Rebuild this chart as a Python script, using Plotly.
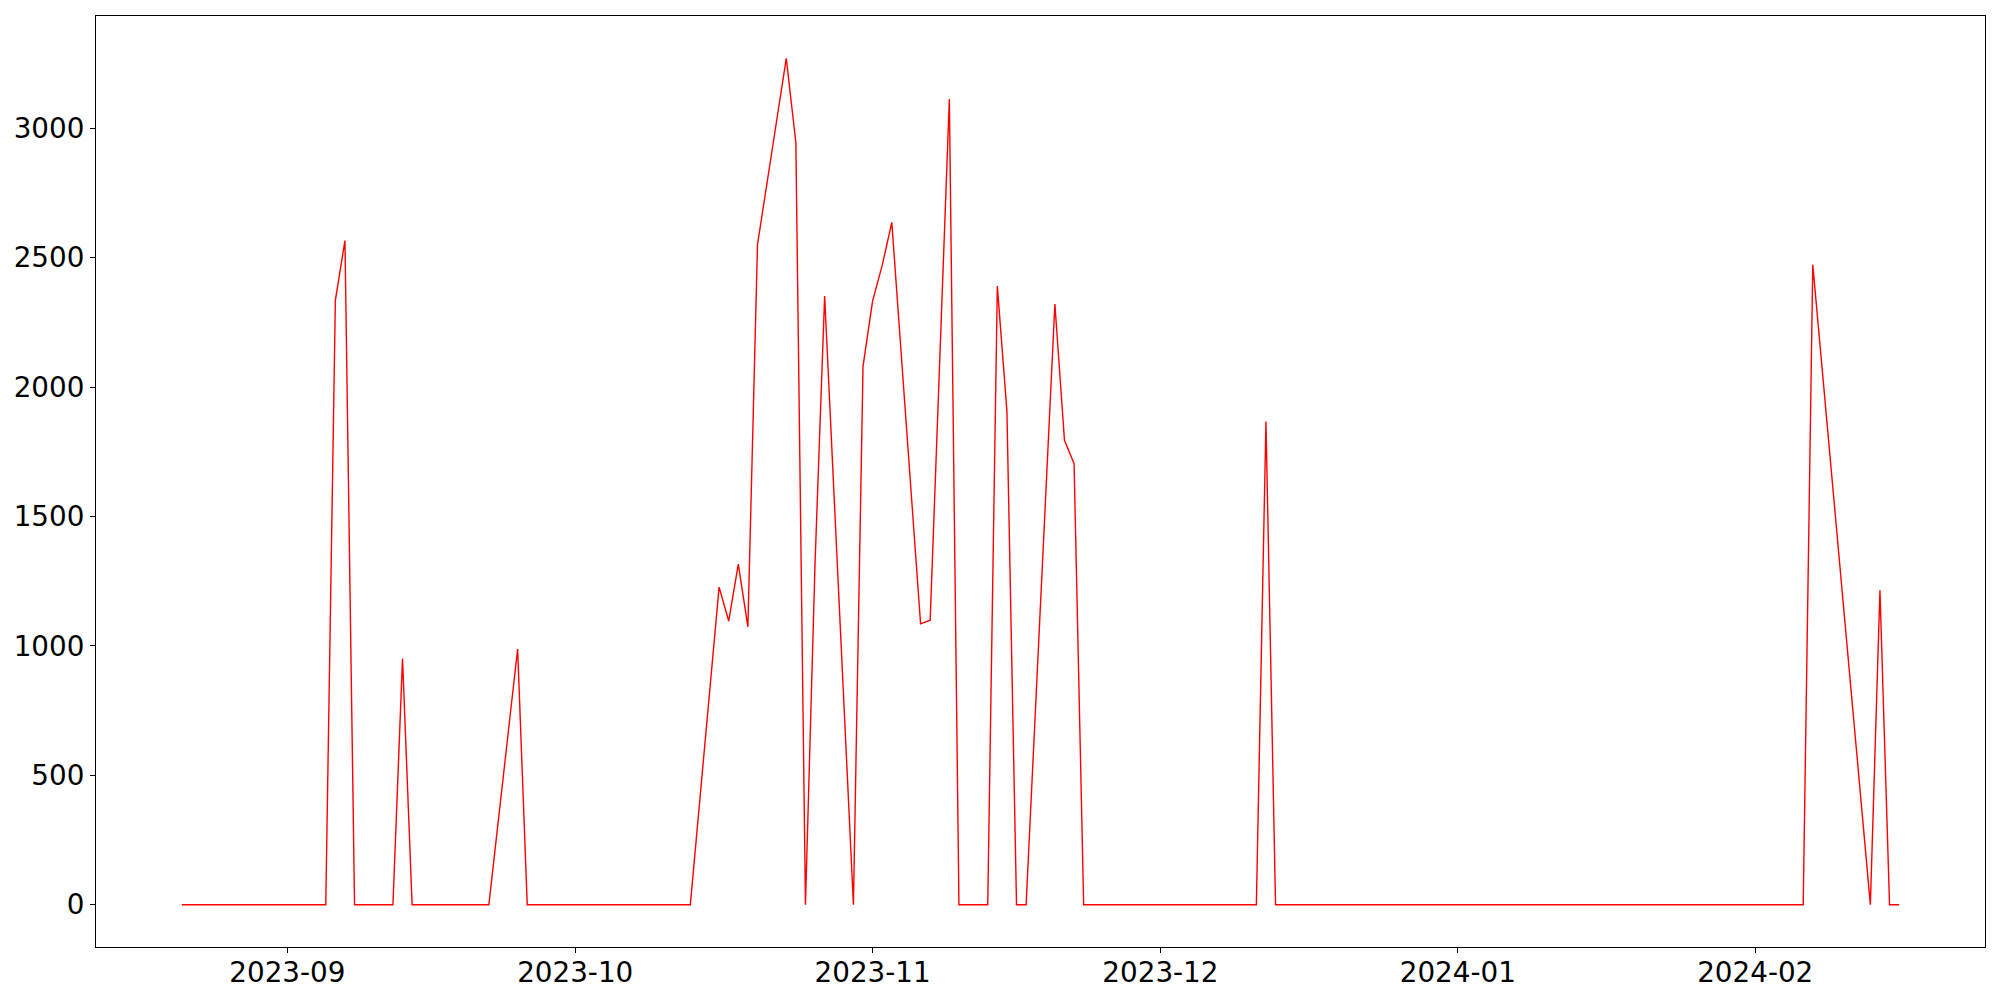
import pandas as pd
import plotly.graph_objects as go

dates = ["2023-08-21", "2023-09-05", "2023-09-06", "2023-09-07", "2023-09-08",
         "2023-09-12", "2023-09-13", "2023-09-14", "2023-09-22", "2023-09-25",
         "2023-09-26", "2023-10-13", "2023-10-16", "2023-10-17", "2023-10-18",
         "2023-10-19", "2023-10-20", "2023-10-23", "2023-10-24", "2023-10-25",
         "2023-10-26", "2023-10-27", "2023-10-30", "2023-10-31", "2023-11-01",
         "2023-11-02", "2023-11-03", "2023-11-06", "2023-11-07", "2023-11-08",
         "2023-11-09", "2023-11-10", "2023-11-13", "2023-11-14", "2023-11-15",
         "2023-11-16", "2023-11-17", "2023-11-20", "2023-11-21", "2023-11-22",
         "2023-11-23", "2023-12-11", "2023-12-12", "2023-12-13", "2024-02-06",
         "2024-02-07", "2024-02-13", "2024-02-14", "2024-02-15", "2024-02-16"]
values = [0, 0, 2335, 2566, 0,
          0, 951, 0, 0, 988,
          0, 0, 1227, 1096, 1316,
          1073, 2550, 3270, 2945, 0,
          1320, 2352, 0, 2080, 2333,
          2470, 2636, 1085, 1099, 2100,
          3113, 0, 0, 2390, 1907,
          0, 0, 2321, 1794, 1704,
          0, 0, 1867, 0, 0,
          2472, 0, 1215, 0, 0]

y_ticks = [0, 500, 1000, 1500, 2000, 2500, 3000]
x_ticks = ["2023-09-01", "2023-10-01", "2023-11-01", "2023-12-01", "2024-01-01", "2024-02-01"]
x_tick_labels = ["2023-09", "2023-10", "2023-11", "2023-12", "2024-01", "2024-02"]

d = pd.to_datetime(dates)
span = d.max() - d.min()
x_range = [(d.min() - 0.05 * span).isoformat(), (d.max() + 0.05 * span).isoformat()]
vmax, vmin = max(values), min(values)
vspan = vmax - vmin
y_range = [vmin - 0.05 * vspan, vmax + 0.05 * vspan]

fig = go.Figure()
fig.add_trace(go.Scatter(x=d, y=values, mode="lines",
                         line=dict(color="#ff0000", width=1.4)))

font = dict(family="DejaVu Sans", size=27.8, color="black")
fig.update_layout(
    width=2000, height=1000,
    margin=dict(l=88, r=23, t=8, b=61),
    paper_bgcolor="white", plot_bgcolor="white",
    showlegend=False,
    font=font,
)
fig.update_xaxes(
    range=x_range, tickmode="array", tickvals=x_ticks, ticktext=x_tick_labels,
    showgrid=False, zeroline=False, showline=True, mirror=True, automargin=False,
    linecolor="black", linewidth=1.1, ticks="outside", ticklen=5, tickwidth=1.1,
    tickcolor="black", tickfont=font, ticklabelstandoff=-4,
)
fig.update_yaxes(
    range=y_range, tickmode="array", tickvals=y_ticks, automargin=False,
    showgrid=False, zeroline=False, showline=True, mirror=True,
    linecolor="black", linewidth=1.1, ticks="outside", ticklen=5, tickwidth=1.1,
    tickcolor="black", tickfont=font,
)

fig.write_html("out.html")
